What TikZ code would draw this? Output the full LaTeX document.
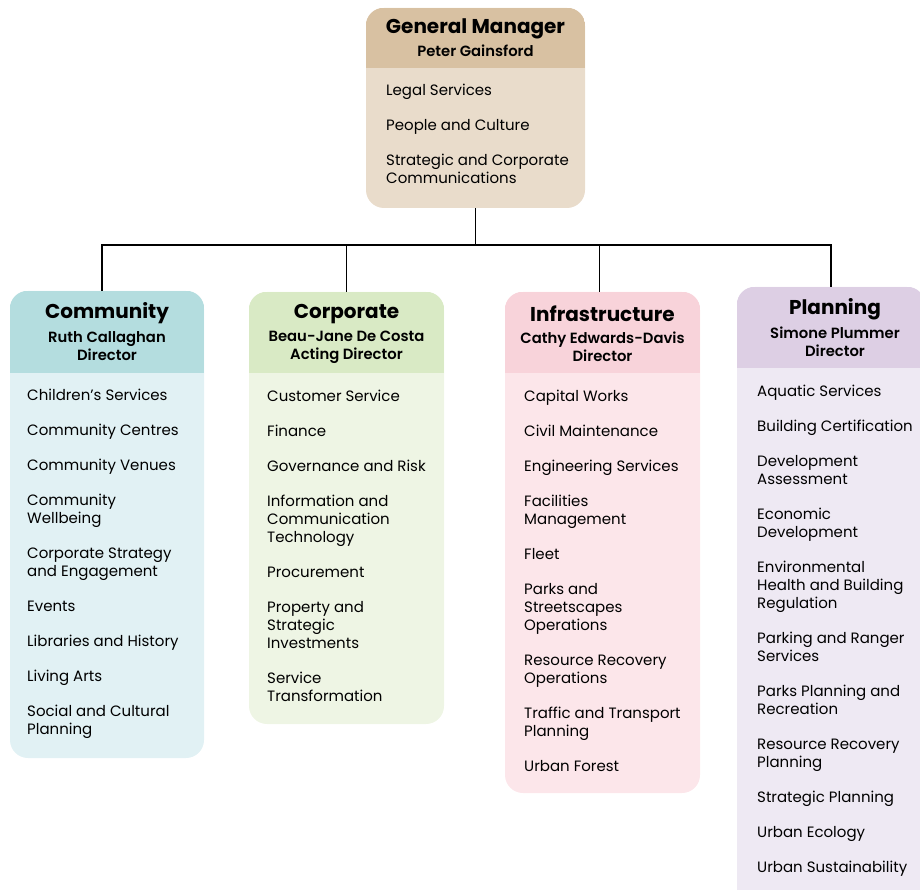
\documentclass[tikz,border=0pt]{standalone}
\usepackage{fontspec}
\setmainfont{Poppins}
\newfontfamily\popsemi{Poppins SemiBold}
\usetikzlibrary{positioning, calc}

\definecolor{gmHead}{HTML}{D8C1A2}
\definecolor{gmBody}{HTML}{E9DCCB}
\definecolor{comHead}{HTML}{B4DDDF}
\definecolor{comBody}{HTML}{E1F1F4}
\definecolor{corHead}{HTML}{D9EAC5}
\definecolor{corBody}{HTML}{EEF5E4}
\definecolor{infHead}{HTML}{F8D3DA}
\definecolor{infBody}{HTML}{FCE6EA}
\definecolor{plaHead}{HTML}{DDCFE4}
\definecolor{plaBody}{HTML}{EEE9F3}

\begin{document}
\begin{tikzpicture}[
        x=1pt, y=-1pt,
        box/.style={rounded corners=18pt, inner sep=0pt},
        title/.style={font=\fontsize{20}{23}\selectfont\bfseries},
        subtitle/.style={font=\popsemi\fontsize{14.8}{18}\selectfont, align=center},
        items/.style={font=\fontsize{15}{18}\selectfont, align=left, anchor=north west, inner sep=0pt},
        conn/.style={line width=1.8pt}
    ]
    \useasboundingbox (0,0) rectangle (920,890);

    % General Manager
    \node[box, fill=gmBody, minimum width=219pt, minimum height=200pt] (gm) at (475.5,108) {};
    \begin{scope}
        \clip[rounded corners=18pt] (gm.north west) rectangle (gm.south east);
        \fill[gmHead] (gm.north west) rectangle ($(gm.north east)+(0,60)$);
    \end{scope}
    \node[title] (gmT) at (475.5,29) {General Manager};
    \node[subtitle] (gmS) at (475.5,51) {Peter Gainsford};
    \node[items] (gmI) at (386,84) {Legal Services\\[17pt]
        People and Culture\\[17pt]
        Strategic and Corporate\\Communications};

    % Community
    \node[box, fill=comBody, minimum width=194pt, minimum height=467pt] (com) at (107,524.5) {};
    \begin{scope}
        \clip[rounded corners=18pt] (com.north west) rectangle (com.south east);
        \fill[comHead] (com.north west) rectangle ($(com.north east)+(0,82)$);
    \end{scope}
    \node[title] (comT) at (107,313) {Community};
    \node[subtitle] (comS) at (107,346) {Ruth Callaghan\\Director};
    \node[items] (comI) at (27,389) {Children's Services\\[17pt]
        Community Centres\\[17pt]
        Community Venues\\[17pt]
        Community\\Wellbeing\\[17pt]
        Corporate Strategy\\and Engagement\\[17pt]
        Events\\[17pt]
        Libraries and History\\[17pt]
        Living Arts\\[17pt]
        Social and Cultural\\Planning};

    % Corporate
    \node[box, fill=corBody, minimum width=195pt, minimum height=432pt] (cor) at (346.5,508) {};
    \begin{scope}
        \clip[rounded corners=18pt] (cor.north west) rectangle (cor.south east);
        \fill[corHead] (cor.north west) rectangle ($(cor.north east)+(0,81)$);
    \end{scope}
    \node[title] (corT) at (346.5,314) {Corporate};
    \node[subtitle] (corS) at (346.5,347) {Beau-Jane De Costa\\Acting Director};
    \node[items] (corI) at (267,390) {Customer Service\\[17pt]
        Finance\\[17pt]
        Governance and Risk\\[17pt]
        Information and\\Communication\\Technology\\[17pt]
        Procurement\\[17pt]
        Property and\\Strategic\\Investments\\[17pt]
        Service\\Transformation};

    % Infrastructure
    \node[box, fill=infBody, minimum width=195pt, minimum height=501pt] (inf) at (602.5,542.5) {};
    \begin{scope}
        \clip[rounded corners=18pt] (inf.north west) rectangle (inf.south east);
        \fill[infHead] (inf.north west) rectangle ($(inf.north east)+(0,81)$);
    \end{scope}
    \node[title] (infT) at (602.5,314) {Infrastructure};
    \node[subtitle] (infS) at (602.5,347) {Cathy Edwards-Davis\\Director};
    \node[items] (infI) at (524,390) {Capital Works\\[17pt]
        Civil Maintenance\\[17pt]
        Engineering Services\\[17pt]
        Facilities\\Management\\[17pt]
        Fleet\\[17pt]
        Parks and\\Streetscapes\\Operations\\[17pt]
        Resource Recovery\\Operations\\[17pt]
        Traffic and Transport\\Planning\\[17pt]
        Urban Forest};

    % Planning
    \node[box, fill=plaBody, minimum width=188pt, minimum height=623pt] (pla) at (831,598.5) {};
    \begin{scope}
        \clip[rounded corners=18pt] (pla.north west) rectangle (pla.south east);
        \fill[plaHead] (pla.north west) rectangle ($(pla.north east)+(0,81)$);
    \end{scope}
    \node[title] (plaT) at (835,309) {Planning};
    \node[subtitle] (plaS) at (835,342) {Simone Plummer\\Director};
    \node[items] (plaI) at (757,385) {Aquatic Services\\[17pt]
        Building Certification\\[17pt]
        Development\\Assessment\\[17pt]
        Economic\\Development\\[17pt]
        Environmental\\Health and Building\\Regulation\\[17pt]
        Parking and Ranger\\Services\\[17pt]
        Parks Planning and\\Recreation\\[17pt]
        Resource Recovery\\Planning\\[17pt]
        Strategic Planning\\[17pt]
        Urban Ecology\\[17pt]
        Urban Sustainability};

    % Connections
    \coordinate (bus) at (475.5,245);
    \draw[conn] (gm.south) -- (bus);
    \draw[conn] ([xshift=-5pt]com.north) |- (bus) -| (pla.north);
    \draw[conn] (cor.north) -- (cor.north |- bus);
    \draw[conn] ([xshift=-3pt]inf.north) -- ([xshift=-3pt]inf.north |- bus);
\end{tikzpicture}
\end{document}
